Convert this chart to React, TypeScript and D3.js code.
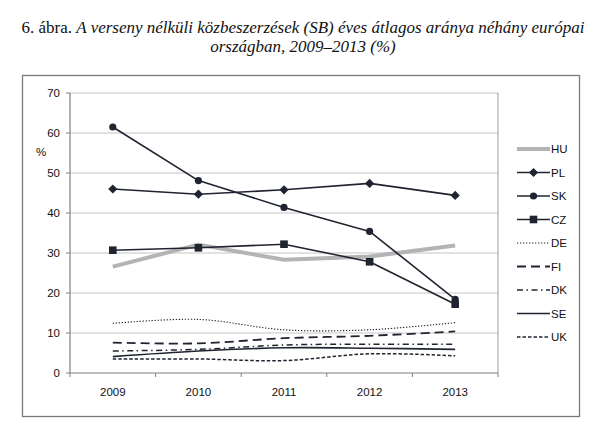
import React from "react";
import * as d3 from "d3";

const years = ["2009", "2010", "2011", "2012", "2013"];
const yTicks = [0, 10, 20, 30, 40, 50, 60, 70];

const HU = [26.6, 32.1, 28.3, 29.1, 31.9];
const PL = [46.0, 44.7, 45.8, 47.4, 44.4];
const SK = [61.5, 48.1, 41.4, 35.4, 18.4];
const CZ = [30.7, 31.3, 32.2, 27.8, 17.2];
const DE = [12.4, 13.4, 10.8, 10.8, 12.6];
const FI = [7.6, 7.4, 8.7, 9.3, 10.4];
const DK = [5.5, 5.9, 7.0, 7.2, 7.2];
const SE = [4.1, 5.5, 6.3, 6.2, 5.9];
const UK = [3.5, 3.5, 3.1, 4.8, 4.3];

const seriesNames = ["HU", "PL", "SK", "CZ", "DE", "FI", "DK", "SE", "UK"];
const seriesValues = [HU, PL, SK, CZ, DE, FI, DK, SE, UK];

const DARK = "#1f2430";
type Style = { color: string; width: number; dash?: string; marker?: string; smooth?: boolean };
const styles: Record<string, Style> = {
  HU: { color: "#b4b4b4", width: 4 },
  PL: { color: DARK, width: 1.6, marker: "diamond" },
  SK: { color: DARK, width: 1.6, marker: "circle" },
  CZ: { color: DARK, width: 1.6, marker: "square" },
  DE: { color: DARK, width: 1.1, dash: "1.3,1.7", smooth: true },
  FI: { color: DARK, width: 1.8, dash: "9,5", smooth: true },
  DK: { color: DARK, width: 1.5, dash: "6,3.5,1.5,3.5", smooth: true },
  SE: { color: DARK, width: 1.6, smooth: true },
  UK: { color: DARK, width: 1.5, dash: "3.5,2", smooth: true },
};

const W = 609;
const H = 438;
const plot = { left: 70, right: 498, top: 93, bottom: 373 };

function Marker({ kind, x, y, color }: { kind?: string; x: number; y: number; color: string }) {
  if (!kind) return null;
  if (kind === "circle") return <circle cx={x} cy={y} r={3.6} fill={color} />;
  if (kind === "square") return <rect x={x - 3.8} y={y - 3.8} width={7.6} height={7.6} fill={color} />;
  const s = 4.6;
  return <path d={`M${x},${y - s}L${x + s},${y}L${x},${y + s}L${x - s},${y}Z`} fill={color} />;
}

export default function App() {
  const x = d3.scaleBand<string>().domain(years).range([plot.left, plot.right]);
  const y = d3.scaleLinear().domain([0, 70]).range([plot.bottom, plot.top]);
  const cx = (yr: string) => (x(yr) ?? 0) + x.bandwidth() / 2;

  const legendX = 517;
  const legendY0 = 149;
  const legendStep = 23.5;

  return (
    <svg
      width={W}
      height={H}
      style={{ position: "absolute", left: 0, top: 0, background: "#fff" }}
      fontFamily="'Liberation Sans', Arial, sans-serif"
    >
      <text x={303} y={33} textAnchor="middle" fontFamily="'Liberation Serif', 'Times New Roman', serif" fontSize={17} fill="#111">
        <tspan>6. ábra. </tspan>
        <tspan fontStyle="italic">A verseny nélküli közbeszerzések (SB) éves átlagos aránya néhány európai</tspan>
      </text>
      <text x={303} y={52} textAnchor="middle" fontFamily="'Liberation Serif', 'Times New Roman', serif" fontSize={17} fontStyle="italic" fill="#111">
        országban, 2009–2013 (%)
      </text>

      <rect x={22.5} y={75.5} width={557} height={341} fill="none" stroke="#7a7a7a" strokeWidth={1.3} />

      {yTicks.map((t) => (
        <g key={t}>
          {t > 0 && (
            <line x1={plot.left} x2={plot.right} y1={y(t)} y2={y(t)} stroke="#c4c4c4" strokeWidth={1} />
          )}
          <line x1={plot.left - 4} x2={plot.left} y1={y(t)} y2={y(t)} stroke="#808080" strokeWidth={1} />
          <text x={60} y={y(t)} dy="0.35em" textAnchor="end" fontSize={11.5} fill="#111">
            {t}
          </text>
        </g>
      ))}
      <line x1={plot.right} x2={plot.right} y1={plot.top} y2={plot.bottom} stroke="#a0a0a0" strokeWidth={1} />
      <line x1={plot.left} x2={plot.left} y1={plot.top} y2={plot.bottom} stroke="#808080" strokeWidth={1.2} />
      <line x1={plot.left} x2={plot.right} y1={plot.bottom} y2={plot.bottom} stroke="#808080" strokeWidth={1.2} />
      {[...years.map((yr) => x(yr) ?? 0), plot.right].map((v, i) => (
        <line key={i} x1={v} x2={v} y1={plot.bottom} y2={plot.bottom + 4} stroke="#808080" strokeWidth={1} />
      ))}
      {years.map((yr) => (
        <text key={yr} x={cx(yr)} y={392} dy="0.35em" textAnchor="middle" fontSize={11.5} fill="#111">
          {yr}
        </text>
      ))}
      <text x={41} y={152} dy="0.35em" textAnchor="middle" fontSize={11.5} fill="#111">
        %
      </text>

      {seriesNames.map((name, i) => {
        const st = styles[name];
        const vals = seriesValues[i];
        const line = d3
          .line<number>()
          .x((_, j) => cx(years[j]))
          .y((v) => y(v))
          .curve(st.smooth ? d3.curveCatmullRom.alpha(0.5) : d3.curveLinear);
        return (
          <g key={name}>
            <path
              d={line(vals) ?? ""}
              fill="none"
              stroke={st.color}
              strokeWidth={st.width}
              strokeDasharray={st.dash}
              strokeLinejoin="round"
            />
            {vals.map((v, j) => (
              <Marker key={j} kind={st.marker} x={cx(years[j])} y={y(v)} color={st.color} />
            ))}
          </g>
        );
      })}

      {seriesNames.map((name, i) => {
        const st = styles[name];
        const ly = legendY0 + i * legendStep;
        return (
          <g key={name}>
            <line
              x1={legendX}
              x2={legendX + 33}
              y1={ly}
              y2={ly}
              stroke={st.color}
              strokeWidth={st.width}
              strokeDasharray={st.dash}
            />
            <Marker kind={st.marker} x={legendX + 16.5} y={ly} color={st.color} />
            <text x={legendX + 34} y={ly} dy="0.35em" fontSize={11.5} fill="#111">
              {name}
            </text>
          </g>
        );
      })}
    </svg>
  );
}
